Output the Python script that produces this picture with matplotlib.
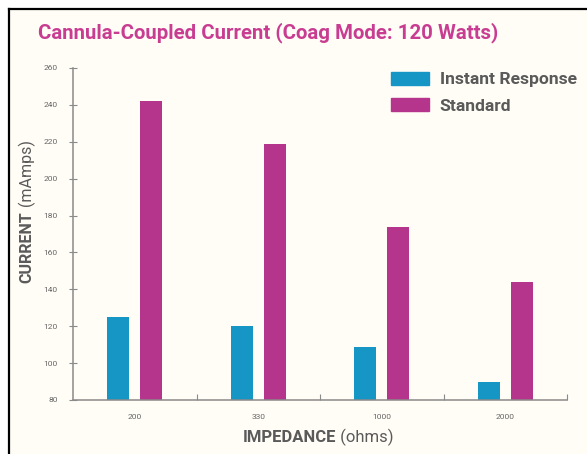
import matplotlib.pyplot as plt
import numpy as np
from matplotlib.lines import Line2D
from matplotlib.patches import Rectangle, Patch

impedance = ["200", "330", "1000", "2000"]
instant_response = [125, 120, 109, 90]
standard = [242, 219, 174, 144]
y_ticks = [80, 100, 120, 140, 160, 180, 200, 220, 240, 260]

cyan = "#1596c4"
magenta = "#b5358c"
grey = "#5a5a5a"

plt.rcParams["font.family"] = ["Roboto", "DejaVu Sans"]
plt.rcParams["font.stretch"] = "condensed"

fig = plt.figure(figsize=(5.87, 4.54), dpi=100, facecolor="white")

# cream panel with black frame on left and top
fig.add_artist(Rectangle((9 / 587, 0), 1, 1 - 9 / 454, transform=fig.transFigure,
                         facecolor="#fffdf6", edgecolor="none", zorder=-10))
fig.add_artist(Line2D([9 / 587, 9 / 587], [0, 1 - 9 / 454], transform=fig.transFigure,
                      color="black", lw=1.6))
fig.add_artist(Line2D([9 / 587, 1], [1 - 9 / 454, 1 - 9 / 454], transform=fig.transFigure,
                      color="black", lw=1.6))

ax = fig.add_axes([73 / 587, 1 - 400 / 454, 494 / 587, 332 / 454])
ax.patch.set_alpha(0)

x = np.arange(len(impedance))
w = 0.178
ax.bar(x - 0.132, instant_response, w, color=cyan, label="Instant Response")
ax.bar(x + 0.135, standard, w, color=magenta, label="Standard")

ax.set_xlim(-0.5, 3.5)
ax.set_ylim(80, 260)
ax.set_yticks(y_ticks)
ax.set_yticklabels([str(t) for t in y_ticks], fontsize=6, color="#666666")
ax.tick_params(axis="y", direction="inout", length=6, width=0.8, colors="#8a8a8a",
               labelcolor="#666666", pad=8)
ax.set_xticks(x)
ax.set_xticklabels(impedance, fontsize=6, color="#666666")
ax.tick_params(axis="x", which="major", length=0, pad=10)
ax.set_xticks([0.5, 1.5, 2.5, 3.5], minor=True)
ax.tick_params(axis="x", which="minor", direction="in", length=4, width=0.8,
               colors="#8a8a8a")

for s in ["top", "right"]:
    ax.spines[s].set_visible(False)
for s in ["left", "bottom"]:
    ax.spines[s].set_color("#8a8a8a")
    ax.spines[s].set_linewidth(1.1)

# axis labels with a bold word and a light unit
xl = fig.text(243 / 587, 1 - 438 / 454, "IMPEDANCE", fontsize=12, fontweight="bold",
              color=grey, ha="left", va="center")
ax.annotate(" (ohms)", xy=(1, 0), xycoords=xl, va="bottom", ha="left",
            fontsize=12, color=grey)
yl = fig.text(27 / 587, 1 - 283 / 454, "CURRENT", fontsize=11.5, fontweight="bold",
              color=grey, ha="center", va="bottom", rotation=90)
ax.annotate(" (mAmps)", xy=(0.5, 1), xycoords=yl, va="bottom", ha="center",
            fontsize=11.5, color=grey, rotation=90)

fig.text(38 / 587, 1 - 33 / 454, "Cannula-Coupled Current (Coag Mode: 120 Watts)",
         fontsize=14.7, fontweight="bold", color="#c83d92", ha="left", va="center")

handles = [Patch(color=cyan), Patch(color=magenta)]
ax.legend(handles, ["Instant Response", "Standard"], loc="upper left",
          bbox_to_anchor=(0.611, 1.036), frameon=False, handlelength=2.2,
          handleheight=0.77, handletextpad=0.6, labelspacing=0.6,
          prop={"weight": "bold", "size": 12.6}, labelcolor=grey)

fig.savefig("out.png", dpi=100)
